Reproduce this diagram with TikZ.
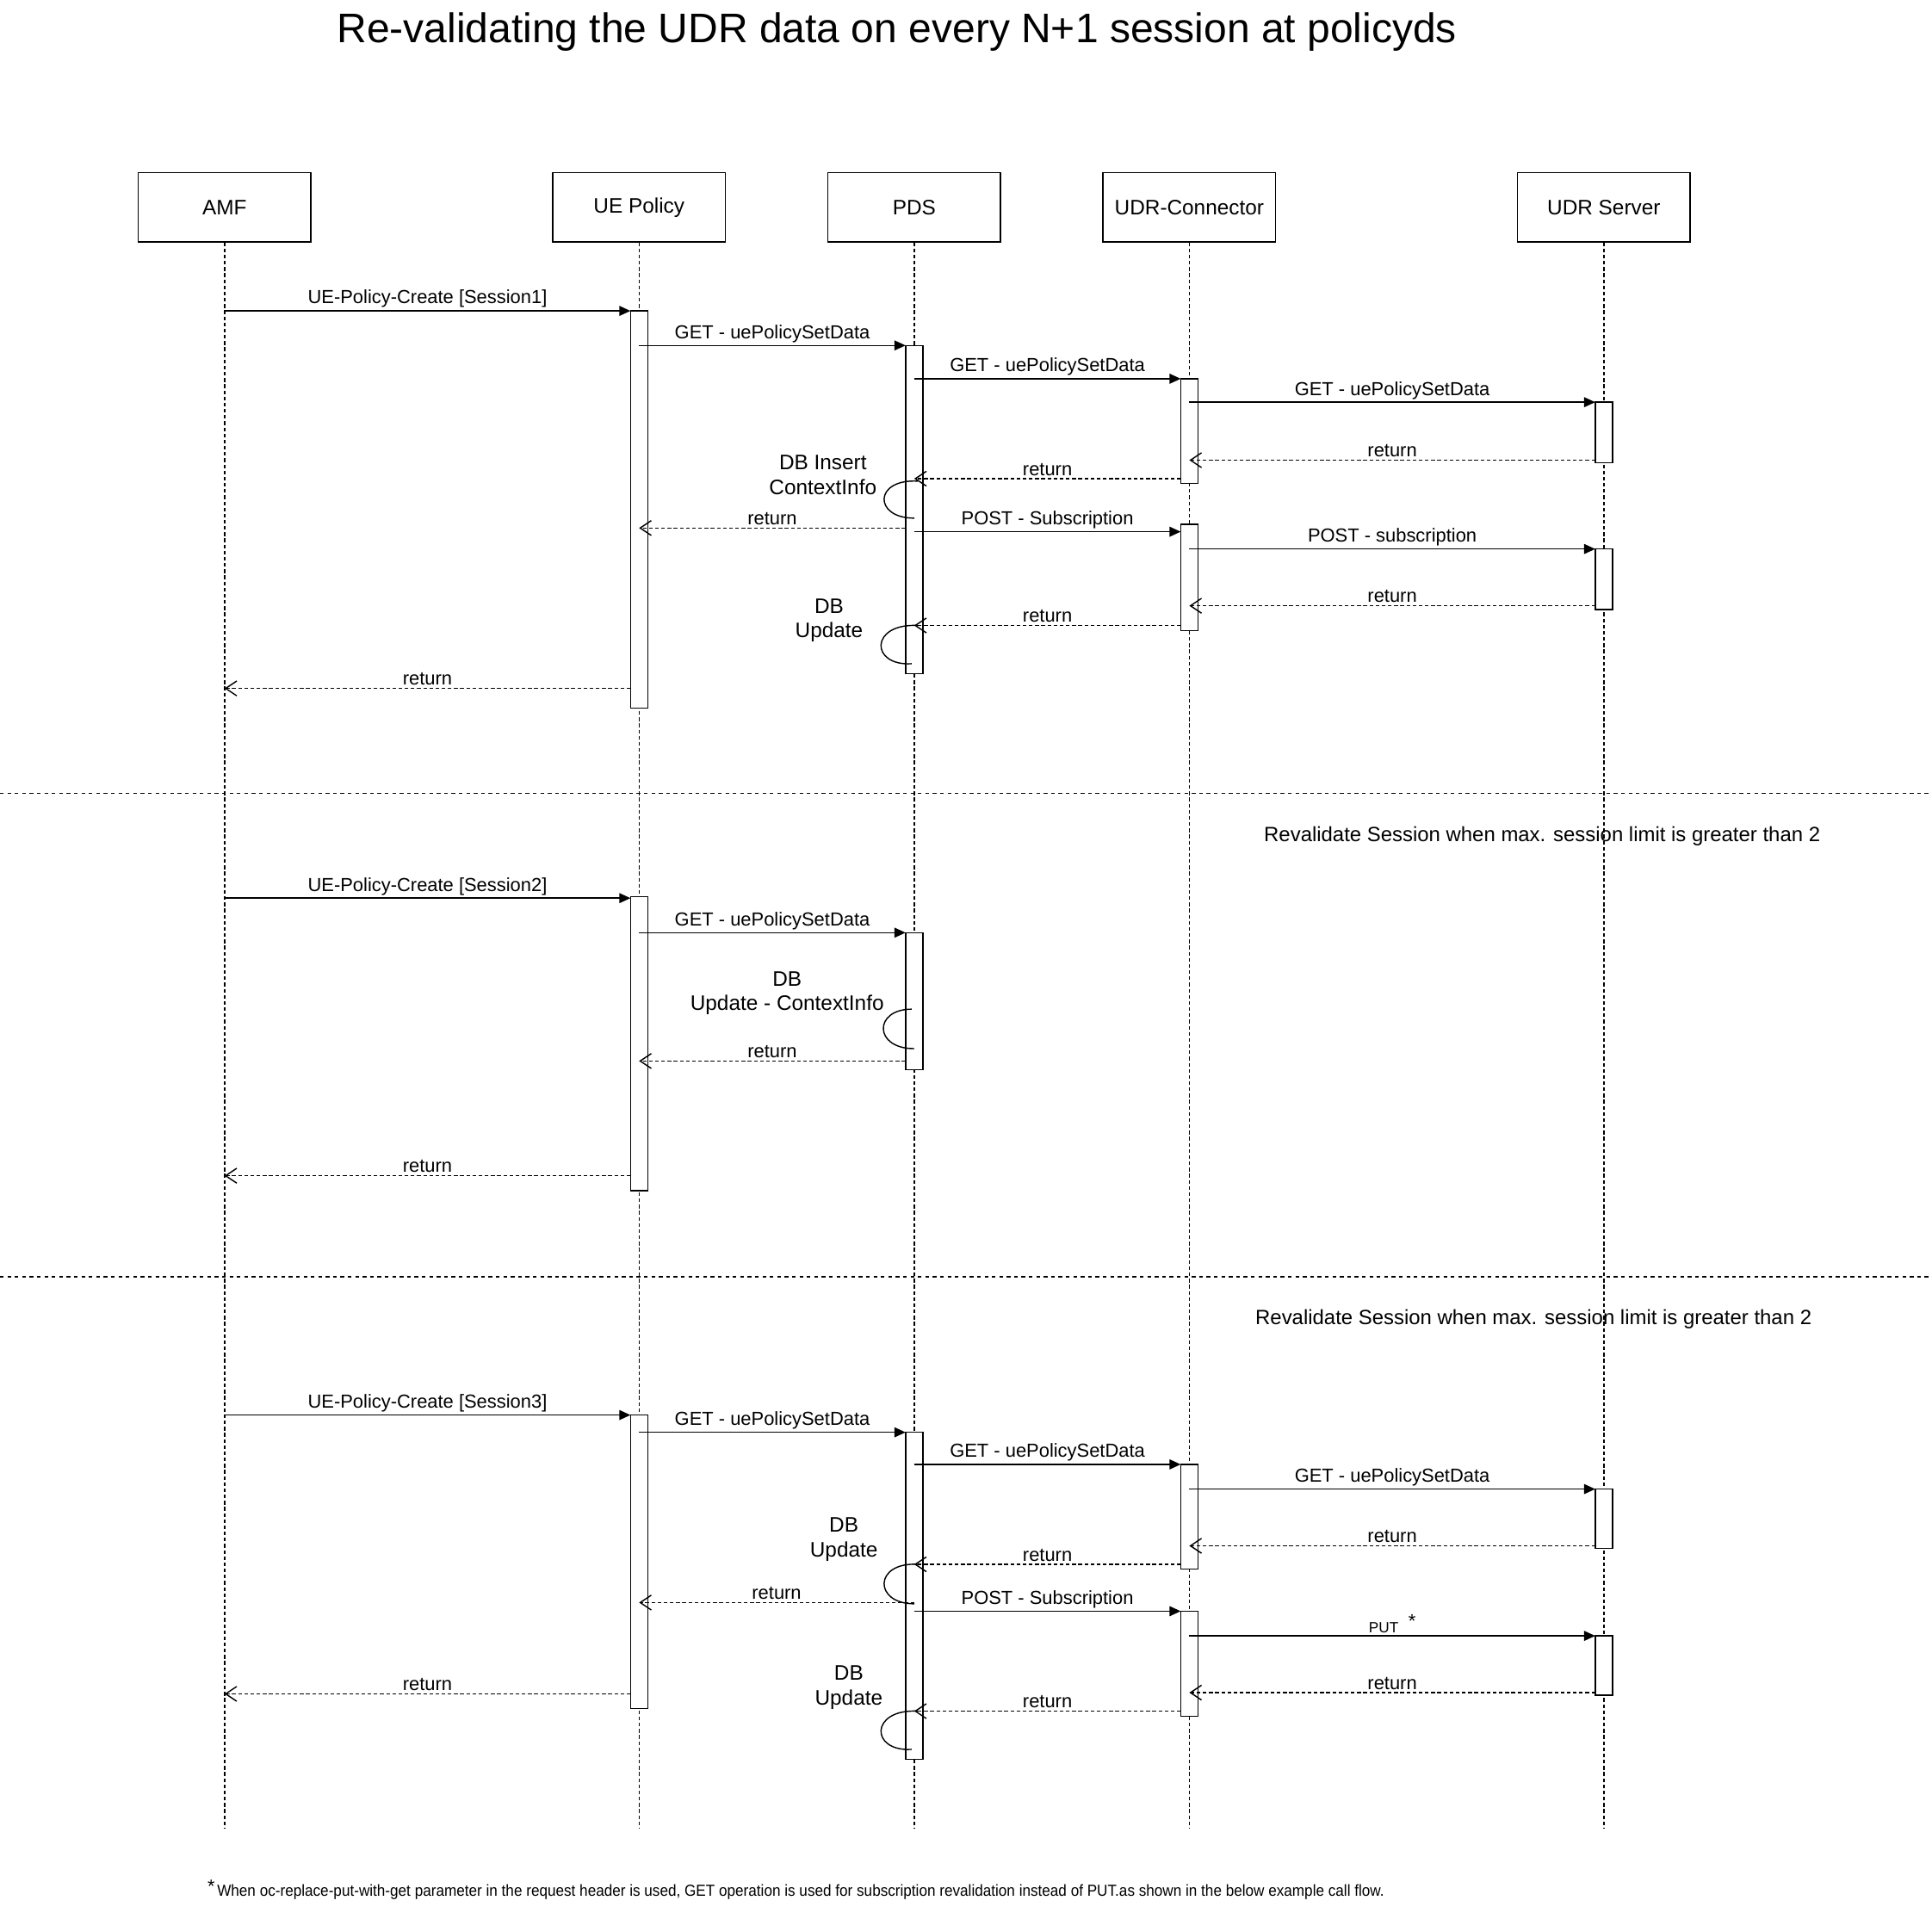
\documentclass[tikz,border=0pt]{standalone}
\usepackage{fontspec}
\setmainfont{Liberation Sans}
\usetikzlibrary{arrows.meta}
\tikzset{
 life/.style={draw,line width=1pt,minimum width=140pt,minimum height=56pt,font=\fontsize{17}{20}\selectfont,inner sep=0},
 lline/.style={densely dashed,line width=1pt},
 bar/.style={draw,fill=white,line width=1pt},
 callarr/.style={-{Triangle[length=9pt,width=8pt]},line width=1pt},
 retarr/.style={-{Straight Barb[length=9pt,width=12pt]},densely dashed,line width=1pt},
 lbl/.style={font=\fontsize{15.3}{17}\selectfont,inner sep=2pt},
 note/.style={font=\fontsize{17}{20}\selectfont,align=center},
 sep/.style={dashed,line width=1pt},
 loopline/.style={line width=1pt}
}
\newcommand{\msg}[7]{\draw[#1] ([xshift=#3pt]#2 |- 0,#6) -- node[lbl,above]{#7} ([xshift=#5pt]#4 |- 0,#6);}
\begin{document}
\begin{tikzpicture}[x=1pt,y=-1pt]
\useasboundingbox (0,0) rectangle (1566,1550);
\node[font=\fontsize{33.5}{38}\selectfont] (title) at (727,26) {Re-validating the UDR data on every N+1 session at policyds};
\node[life] (amf) at (182,168) {AMF};
\node[life] (ue) at (518,168) {UE Policy};
\node[life] (pds) at (741,168) {PDS};
\node[life] (udrc) at (964,168) {UDR-Connector};
\node[life] (udrs) at (1300,168) {UDR Server};
\foreach \n in {amf,ue,pds,udrc,udrs}{\coordinate (\n-end) at (\n |- 0,1482); \draw[lline] (\n.south) -- (\n-end);}
% separators
\coordinate (s1a) at (0,643); \coordinate (s1b) at (1566,643);
\coordinate (s2a) at (0,1035); \coordinate (s2b) at (1566,1035);
\draw[sep] (s1a) -- (s1b); \draw[sep] (s2a) -- (s2b);
\node[note,font=\fontsize{16.7}{19}\selectfont] (rv1) at (1250,678) {Revalidate Session when max. session limit is greater than 2};
\node[note,font=\fontsize{16.7}{19}\selectfont] (rv2) at (1243,1069) {Revalidate Session when max. session limit is greater than 2};
% activation bars
\draw[bar] (511,252) rectangle (525,574);
\draw[bar] (734,280) rectangle (748,546);
\draw[bar] (957,307) rectangle (971,392);
\draw[bar] (957,425) rectangle (971,511);
\draw[bar] (1293,326) rectangle (1307,375);
\draw[bar] (1293,445) rectangle (1307,494);
\draw[bar] (511,727) rectangle (525,965);
\draw[bar] (734,756) rectangle (748,867);
\draw[bar] (511,1147) rectangle (525,1385);
\draw[bar] (734,1161) rectangle (748,1426);
\draw[bar] (957,1187) rectangle (971,1272);
\draw[bar] (957,1306) rectangle (971,1391);
\draw[bar] (1293,1207) rectangle (1307,1255);
\draw[bar] (1293,1326) rectangle (1307,1374);
% section 1
\msg{callarr}{amf}{0}{ue}{-7}{252}{UE-Policy-Create [Session1]}
\msg{callarr}{ue}{0}{pds}{-7}{280}{GET - uePolicySetData}
\msg{callarr}{pds}{0}{udrc}{-7}{307}{GET - uePolicySetData}
\msg{callarr}{udrc}{0}{udrs}{-7}{326}{GET - uePolicySetData}
\msg{retarr}{udrs}{-7}{udrc}{0}{373}{return}
\msg{retarr}{udrc}{-7}{pds}{0}{388}{return}
\node[note,anchor=east] (n1) at (714,385) {DB Insert\\ContextInfo};
\draw[loopline] (744,390) .. controls (708,388) and (708,420) .. (741,420);
\msg{retarr}{pds}{-7}{ue}{0}{428}{return}
\msg{callarr}{pds}{0}{udrc}{-7}{431}{POST - Subscription}
\msg{callarr}{udrc}{0}{udrs}{-7}{445}{POST - subscription}
\msg{retarr}{udrs}{-7}{udrc}{0}{491}{return}
\msg{retarr}{udrc}{-7}{pds}{0}{507}{return}
\node[note] (n2) at (672,503) {DB\\Update};
\draw[loopline] (744,507) .. controls (705,505) and (705,540) .. (739,538);
\msg{retarr}{ue}{-7}{amf}{0}{558}{return}
% section 2
\msg{callarr}{amf}{0}{ue}{-7}{728}{UE-Policy-Create [Session2]}
\msg{callarr}{ue}{0}{pds}{-7}{756}{GET - uePolicySetData}
\node[note] (n3) at (638,805) {DB\\Update - ContextInfo};
\draw[loopline] (739,818) .. controls (708,818) and (708,850) .. (741,850);
\msg{retarr}{pds}{-7}{ue}{0}{860}{return}
\msg{retarr}{ue}{-7}{amf}{0}{953}{return}
% section 3
\msg{callarr}{amf}{0}{ue}{-7}{1147}{UE-Policy-Create [Session3]}
\msg{callarr}{ue}{0}{pds}{-7}{1161}{GET - uePolicySetData}
\msg{callarr}{pds}{0}{udrc}{-7}{1187}{GET - uePolicySetData}
\msg{callarr}{udrc}{0}{udrs}{-7}{1207}{GET - uePolicySetData}
\msg{retarr}{udrs}{-7}{udrc}{0}{1253}{return}
\msg{retarr}{udrc}{-7}{pds}{0}{1268}{return}
\node[note] (n4) at (684,1248) {DB\\Update};
\draw[loopline] (744,1268) .. controls (708,1266) and (708,1300) .. (741,1300);
\msg{retarr}{pds}{0}{ue}{0}{1299}{return}
\msg{callarr}{pds}{0}{udrc}{-7}{1306}{POST - Subscription}
\msg{callarr}{udrc}{0}{udrs}{-7}{1326}{\raisebox{0pt}{\fontsize{12}{14}\selectfont PUT}\hspace{8pt}\raisebox{4pt}{*}}
\msg{retarr}{udrs}{-7}{udrc}{0}{1372}{return}
\msg{retarr}{ue}{-7}{amf}{0}{1373}{return}
\msg{retarr}{udrc}{-7}{pds}{0}{1387}{return}
\node[note] (n5) at (688,1368) {DB\\Update};
\draw[loopline] (744,1387) .. controls (705,1385) and (705,1420) .. (739,1418);
% footnote
\node[anchor=west,inner sep=0] (fn) at (168,1532) {\raisebox{3pt}{\fontsize{15}{16}\selectfont *}\hspace{2pt}\scalebox{0.92}[1]{\fontsize{13}{15}\selectfont When oc-replace-put-with-get parameter in the request header is used, GET operation is used for subscription revalidation instead of PUT.as shown in the below example call flow.}};
\end{tikzpicture}
\end{document}
